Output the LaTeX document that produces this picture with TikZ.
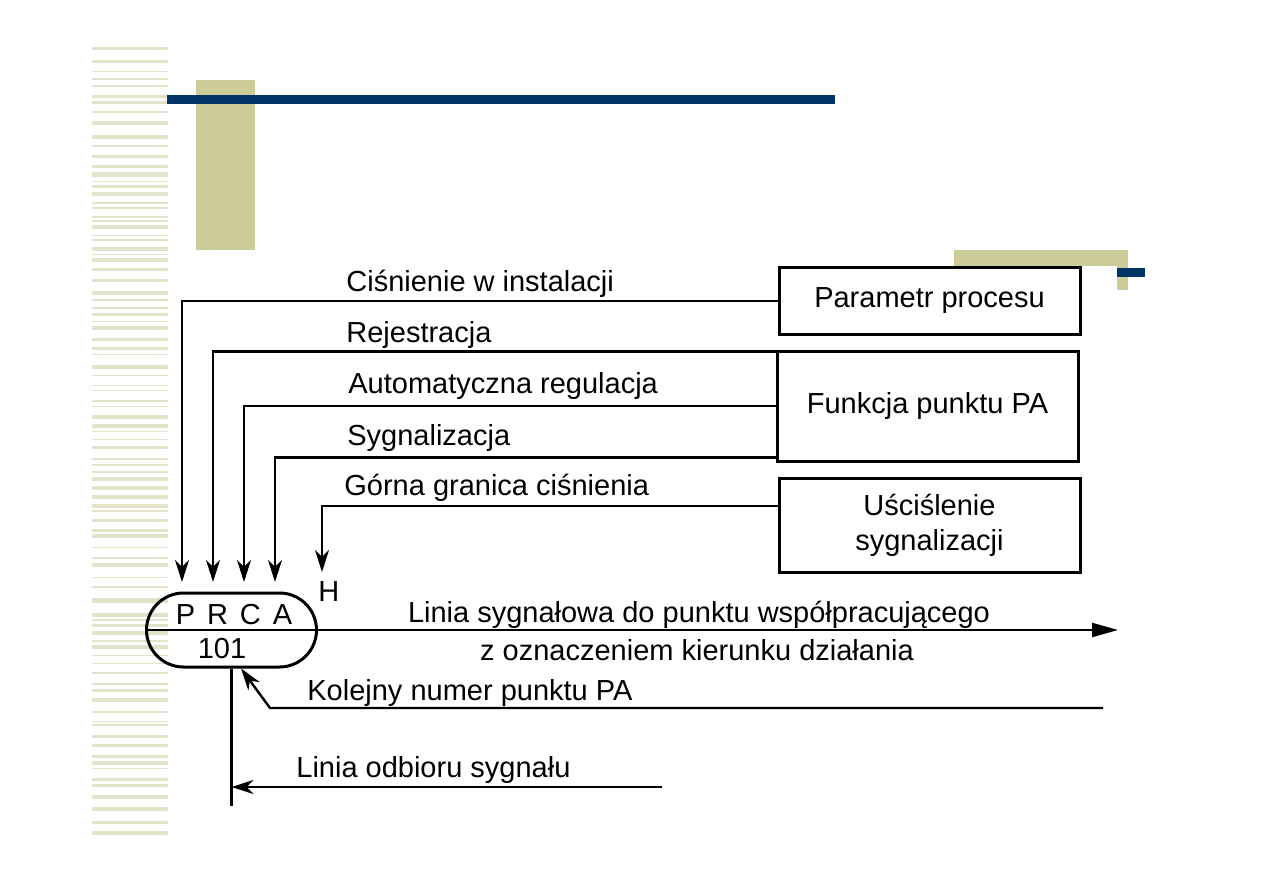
\documentclass[tikz,border=0pt]{standalone}
\usepackage{fontspec}
\setmainfont{Liberation Sans}
\usetikzlibrary{arrows.meta,shapes.misc}

\definecolor{stripe}{RGB}{227,227,201}
\definecolor{olive}{RGB}{205,205,153}
\definecolor{navy}{RGB}{0,51,102}

\tikzset{
  lbl/.style={font=\fontsize{14.5}{17.5}\selectfont, inner sep=0pt},
  box/.style={draw, line width=1.5pt, lbl, align=center, minimum width=150.5pt},
  wire/.style={line width=1.2pt},
  arr/.style={wire, -{Stealth[length=11pt,width=7pt,inset=3.5pt]}},
}

\begin{document}
\begin{tikzpicture}[x=0.5pt,y=-0.5pt]
    \useasboundingbox (0,0) rectangle (1263,893);

    % Slide decoration
    \pgfmathsetseed{11}
    \gdef\py{47}
    \foreach \i in {1,...,120} {
        \pgfmathsetmacro\hh{0.8+4*rnd}
        \ifdim\py pt<842pt
            \fill[stripe] (92,\py) rectangle (168,\py+\hh);
        \fi
        \pgfmathsetmacro\yy{\py+\hh+2+8.5*rnd}
        \xdef\py{\yy}
    }
    \fill[olive] (196,80) rectangle (255,250);
    \fill[navy] (167,95) rectangle (835,104);
    \fill[olive] (954,250) rectangle (1128,266);
    \fill[olive] (1117,266) rectangle (1128,290);
    \fill[navy] (1117,268) rectangle (1145,277);

    % Boxes
    \node[box, minimum height=33pt] (param) at (929.5,301) {Parametr procesu};
    \node[box, minimum height=55pt] (func) at (927.5,406) {Funkcja punktu PA};
    \node[box, minimum height=47pt] (usc) at (929.5,525) {Uściślenie\\sygnalizacji};

    % PA point
    \node[draw, rounded rectangle, line width=1.5pt, minimum width=85pt,
          minimum height=37pt, inner sep=0pt] (prca) at (231.5,630) {};
    \node[lbl, anchor=base] (fun) at (234,624) {P\hspace{.41em}R\hspace{.41em}C\hspace{.41em}A};
    \node[lbl, anchor=base] (num) at (222,658) {101};
    \node[lbl, anchor=base west] (h) at (318,601) {H};

    % Arrow ends above the point
    \coordinate (aP) at (182,582);
    \coordinate (aR) at (213,582);
    \coordinate (aA) at (244,582);
    \coordinate (aS) at (275,582);
    \coordinate (aH) at (322,572);

    % Function lines
    \draw[arr] (param.west) -| (aP);
    \draw[arr] ([yshift=-1pt]func.north west) -| (aR);
    \draw[arr] (func.west) -| (aA);
    \draw[arr] ([yshift=2.5pt]func.south west) -| (aS);
    \draw[arr] ([yshift=9.5pt]usc.west) -| (aH);

    \node[lbl, anchor=base west] (lpress) at (346,292) {Ciśnienie w instalacji};
    \node[lbl, anchor=base west] (lrec) at (346,343) {Rejestracja};
    \node[lbl, anchor=base west] (lauto) at (348,393) {Automatyczna regulacja};
    \node[lbl, anchor=base west] (lsig) at (347,445) {Sygnalizacja};
    \node[lbl, anchor=base west] (llimit) at (344,495) {Górna granica ciśnienia};

    % Signal line
    \coordinate (sigEnd) at (1118,631);
    \draw[wire, -{Triangle[length=13pt,width=7pt]}] (prca.west) -- (prca.west -| sigEnd);
    \node[lbl, anchor=base] (lline1) at (699,622) {Linia sygnałowa do punktu współpracującego};
    \node[lbl, anchor=base] (lline2) at (697,660) {z oznaczeniem kierunku działania};

    % Sequence number
    \coordinate (numStart) at (1103,708);
    \coordinate (numBend) at (270,708);
    \draw[arr] (numStart) -- (numBend) -- ([xshift=4.75pt]prca.south);
    \node[lbl, anchor=base west] (lnum) at (307,700) {Kolejny numer punktu PA};

    % Signal receiving line
    \coordinate (recvEnd) at (231.5,806);
    \coordinate (recvStart) at (662,787);
    \draw[wire] (prca.south) -- (recvEnd);
    \draw[arr] (recvStart) -- (recvStart -| prca.south);
    \node[lbl, anchor=base west] (lrecv) at (296,777) {Linia odbioru sygnału};

\end{tikzpicture}
\end{document}
